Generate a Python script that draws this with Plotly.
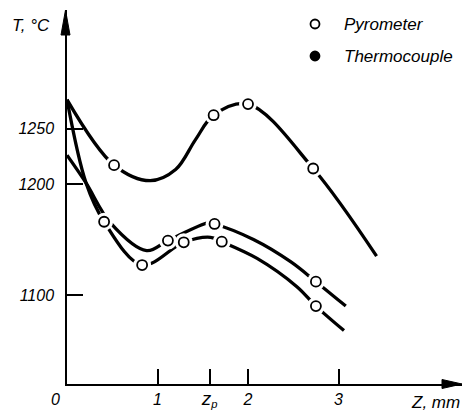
import plotly.graph_objects as go

# ---------------- data ----------------
# Upper curve
curveA_z = [0.0, 0.52, 0.92, 1.20, 1.42, 1.62, 2.00, 2.72, 3.42]
curveA_T = [1276, 1217, 1203, 1213, 1240, 1262, 1272, 1214, 1135]
markA_z = [0.52, 1.62, 2.00, 2.72]
markA_T = [1217, 1262, 1272, 1214]

# Middle curve
curveB_z = [0.0, 0.21, 0.48, 0.88, 1.115, 1.56, 1.63, 2.06, 2.47, 2.75, 3.08]
curveB_T = [1226, 1201, 1165, 1140, 1149, 1165, 1164, 1150, 1130, 1112, 1090]
markB_z = [1.115, 1.63, 2.75]
markB_T = [1149, 1164, 1112]

# Lower curve
curveC_z = [0.0, 0.21, 0.41, 0.83, 1.29, 1.585, 1.71, 2.10, 2.54, 2.75, 3.06]
curveC_T = [1276, 1201, 1166, 1127, 1147.5, 1152, 1148, 1133, 1107.5, 1090, 1068]
markC_z = [0.41, 0.83, 1.29, 1.71, 2.75]
markC_T = [1166, 1127, 1147.5, 1148, 1090]

x_tickvals = [1, 1.575, 2, 3]
x_ticktext = ["1", "<span style='font-size:19px'>z</span><sub>p</sub>", "2", "3"]
y_tickvals = [1100, 1200, 1250]
y_ticktext = ["1100", "1200", "1250"]
legend_labels = ["Pyrometer", "Thermocouple"]

X_RANGE = [0, 4.364]
Y_RANGE = [1019.8, 1356.8]

W, H = 468, 411
ML, MR, MT, MB = 67, 6, 10, 27
PW = W - ML - MR
PH = H - MT - MB

FONT = "Liberation Sans"
fig = go.Figure()

for zs, ts in [(curveA_z, curveA_T), (curveB_z, curveB_T), (curveC_z, curveC_T)]:
    fig.add_trace(go.Scatter(x=zs, y=ts, mode="lines",
                             line=dict(color="black", width=3.3, shape="spline", smoothing=1.0),
                             showlegend=False, hoverinfo="skip"))

for zs, ts in [(markA_z, markA_T), (markB_z, markB_T), (markC_z, markC_T)]:
    # white halo producing the gaps of the drawn line around each circle
    fig.add_trace(go.Scatter(x=zs, y=ts, mode="markers",
                             marker=dict(size=18, color="white", line=dict(width=0)),
                             showlegend=False, hoverinfo="skip"))
    fig.add_trace(go.Scatter(x=zs, y=ts, mode="markers",
                             marker=dict(size=10, color="white", line=dict(color="black", width=1.8)),
                             showlegend=False, hoverinfo="skip"))

shapes = []
# axis arrowheads (paper coordinates)
ah_len, ah_half = 25, 4.5
shapes.append(dict(type="path", xref="paper", yref="paper",
                   path=f"M {-1.5/PW},1 L {-(1.5+ah_half)/PW},{1-ah_len/PH} L {(ah_half-1.5)/PW},{1-ah_len/PH} Z",
                   fillcolor="black", line=dict(color="black", width=1)))
shapes.append(dict(type="path", xref="paper", yref="paper",
                   path=f"M 1,0 L {1-20/PW},{ah_half/PH} L {1-20/PW},{-ah_half/PH} Z",
                   fillcolor="black", line=dict(color="black", width=1)))

# legend symbols
leg_x = (315 - ML) / PW
leg_y = [(H - MB - 24) / PH, (H - MB - 56) / PH]
for i, yy in enumerate(leg_y):
    shapes.append(dict(type="circle", xref="paper", yref="paper",
                       xsizemode="pixel", ysizemode="pixel",
                       xanchor=leg_x, yanchor=yy,
                       x0=-4.5, x1=4.5, y0=-4.5, y1=4.5,
                       fillcolor="white" if i == 0 else "black",
                       line=dict(color="black", width=1.8)))

annotations = []
for i, yy in enumerate(leg_y):
    annotations.append(dict(x=(342 - ML) / PW, y=yy, xref="paper", yref="paper",
                            text=legend_labels[i], showarrow=False,
                            xanchor="left", yanchor="middle",
                            font=dict(family=FONT, size=17, color="black", style="italic")))
annotations.append(dict(x=-(ML - 10) / PW, y=(H - MB - 25) / PH, xref="paper", yref="paper",
                        text="T, °C", showarrow=False, xanchor="left", yanchor="middle",
                        font=dict(family=FONT, size=17, color="black", style="italic")))
annotations.append(dict(x=1.0, y=-(402 - (H - MB)) / PH, xref="paper", yref="paper",
                        text="Z, mm", showarrow=False, xanchor="right", yanchor="middle",
                        font=dict(family=FONT, size=17, color="black", style="italic")))
annotations.append(dict(x=-(ML - 55) / PW, y=-(399 - (H - MB)) / PH, xref="paper", yref="paper",
                        text="0", showarrow=False, xanchor="center", yanchor="middle",
                        font=dict(family=FONT, size=16, color="black", style="italic")))

tickfont = dict(family=FONT, size=16, color="black", style="italic")

fig.update_layout(
    width=W, height=H,
    margin=dict(l=ML, r=MR, t=MT, b=MB, pad=0),
    paper_bgcolor="white", plot_bgcolor="white",
    showlegend=False,
    shapes=shapes, annotations=annotations,
    xaxis=dict(range=X_RANGE, showgrid=False, zeroline=False,
               showline=True, linecolor="black", linewidth=1.5,
               ticks="inside", ticklen=15, tickwidth=1.5, tickcolor="black",
               tickvals=x_tickvals, ticktext=x_ticktext, tickfont=tickfont,
               automargin=False, fixedrange=True),
    yaxis=dict(range=Y_RANGE, showgrid=False, zeroline=False,
               showline=True, linecolor="black", linewidth=1.5,
               ticks="inside", ticklen=16, tickwidth=1.5, tickcolor="black",
               tickvals=y_tickvals, ticktext=y_ticktext, tickfont=tickfont,
               ticklabelstandoff=8,
               automargin=False, fixedrange=True),
)

fig.write_html("out.html", config={"displayModeBar": False},
               post_script="document.body.style.margin='0';document.body.style.overflow='hidden';")
